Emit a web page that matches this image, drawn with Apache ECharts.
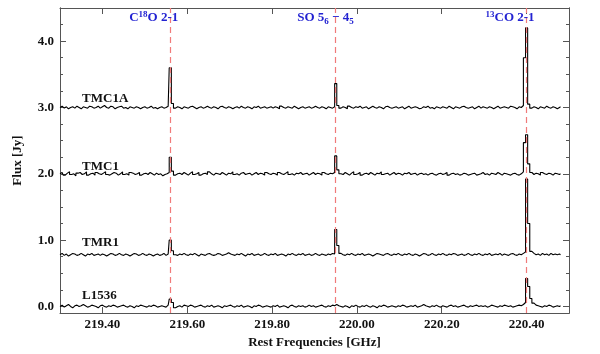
<!DOCTYPE html>
<html>
<head>
<meta charset="utf-8">
<title>Spectra</title>
<script src="https://cdn.jsdelivr.net/npm/echarts@6/dist/echarts.min.js"></script>
<style>
  html, body { margin: 0; padding: 0; background: #fff; }
  #chart { width: 600px; height: 354px; }
</style>
</head>
<body>
<div id="chart"></div>
<script>
// channel grid (GHz)
const freqStart = 219.30;
const chanWidth = 0.005;

// flux per channel [Jy]
const tmc1a = [
  3.00,3.02,2.99,3.01,2.98,3.00,3.01,2.99,3.02,3.00,2.98,3.01,3.00,2.99,3.02,3.01,2.99,3.00,3.02,2.99,
  3.01,3.03,3.00,2.99,3.02,3.01,2.98,3.00,3.01,3.02,2.99,3.00,2.98,3.01,3.00,2.99,3.01,3.00,2.98,3.00,
  3.01,2.99,3.00,3.02,2.99,3.00,2.98,3.00,3.01,2.99,3.00,3.02,3.60,3.06,2.99,3.01,3.00,2.98,3.01,3.00,
  2.99,3.01,3.02,3.00,2.98,3.00,3.01,2.99,3.00,3.02,3.00,2.99,3.01,3.00,2.98,3.01,3.02,3.00,2.99,3.01,
  3.00,2.98,3.00,3.01,2.99,3.02,3.00,2.99,3.01,3.00,2.98,3.01,3.00,3.02,2.99,3.00,3.01,2.99,3.00,3.01,
  2.99,3.01,3.00,2.98,3.02,3.00,2.99,3.01,3.00,2.99,3.02,3.00,2.98,3.00,3.01,2.99,3.00,3.01,2.99,3.00,
  3.02,3.00,2.99,3.01,3.00,2.98,3.01,3.00,2.99,3.01,3.36,3.03,2.99,3.01,3.00,2.98,3.02,3.00,2.99,3.01,
  3.00,3.02,2.99,3.00,3.01,2.98,3.00,3.02,3.00,2.99,3.01,3.00,2.98,3.01,3.02,3.00,2.99,3.00,3.01,2.99,
  3.00,3.01,2.98,3.00,3.02,2.99,3.00,3.01,3.00,2.98,2.99,3.01,3.00,3.02,2.99,3.00,2.98,3.01,3.00,2.99,
  3.01,3.00,2.99,3.02,3.00,2.98,3.01,3.00,2.99,3.01,3.02,3.00,2.99,3.00,3.01,2.98,3.00,3.02,2.99,3.01,
  3.00,2.99,3.01,3.00,2.98,3.00,3.02,2.99,3.00,3.01,3.00,2.99,3.02,3.01,3.00,2.98,3.01,3.00,3.03,3.75,
  4.20,3.05,2.99,3.01,3.00,2.98,3.01,3.00,2.99,3.02,3.00,2.99,3.01,3.00,2.98,3.00,3.01
];
const tmc1 = [
  2.00,2.02,1.98,2.01,2.03,1.99,2.00,1.97,2.01,2.02,1.99,2.00,2.03,1.98,2.00,2.01,1.98,2.02,2.00,1.99,
  2.01,2.03,1.99,1.98,2.00,2.02,2.01,1.98,2.00,2.03,1.99,2.00,1.98,2.02,2.01,1.99,2.00,2.02,1.98,2.00,
  2.01,1.99,2.02,2.00,1.98,2.01,1.99,2.00,1.97,1.99,2.00,2.02,2.25,2.04,1.98,2.00,2.01,1.99,2.02,2.00,
  1.98,2.01,2.03,1.99,2.00,2.02,1.98,2.00,2.01,1.99,2.03,2.00,1.98,2.01,2.00,1.99,2.02,2.00,1.98,2.01,
  2.00,2.03,1.99,2.00,1.98,2.01,2.02,1.99,2.00,2.01,1.98,2.00,2.02,1.99,2.01,2.00,1.98,2.02,2.00,1.99,
  2.01,2.00,1.98,2.02,2.00,1.99,2.01,2.03,1.99,2.00,1.98,2.01,2.00,2.02,1.99,2.00,2.01,1.98,2.00,2.02,
  1.99,2.01,2.00,1.98,2.02,2.00,1.99,2.01,2.00,2.02,2.27,2.06,2.00,1.99,2.02,2.00,1.98,2.01,2.03,1.99,
  2.00,2.02,1.98,2.00,2.01,1.99,2.02,2.00,1.98,2.01,2.00,2.03,1.99,2.00,2.01,1.98,2.00,2.02,1.99,2.01,
  2.00,1.98,2.01,2.00,2.02,1.99,2.00,2.01,1.98,2.00,2.01,1.99,2.00,1.98,2.00,2.01,1.99,1.98,2.00,2.01,
  1.99,2.00,2.02,1.98,2.00,2.01,1.99,2.00,1.98,1.99,2.01,2.00,1.98,1.99,2.00,2.01,1.98,1.99,2.00,2.02,
  1.99,2.00,1.98,2.01,2.00,1.99,2.02,2.00,1.98,2.01,2.00,1.99,1.98,2.00,2.01,1.99,1.98,2.00,2.03,2.47,
  2.59,2.15,2.02,1.99,2.01,2.00,1.98,2.02,2.00,1.99,2.01,2.00,1.98,2.01,2.00,1.99,2.00
];
const tmr1 = [
  0.78,0.80,0.77,0.79,0.76,0.78,0.80,0.79,0.77,0.78,0.80,0.78,0.76,0.79,0.78,0.80,0.77,0.78,0.79,0.77,
  0.79,0.78,0.76,0.78,0.80,0.79,0.77,0.78,0.80,0.78,0.77,0.79,0.78,0.76,0.78,0.80,0.79,0.77,0.78,0.80,
  0.78,0.77,0.79,0.78,0.76,0.78,0.79,0.77,0.78,0.80,0.77,0.79,1.00,0.84,0.78,0.77,0.79,0.78,0.80,0.78,
  0.77,0.79,0.78,0.80,0.78,0.76,0.79,0.78,0.77,0.79,0.80,0.78,0.77,0.78,0.80,0.79,0.77,0.78,0.79,0.81,
  0.79,0.78,0.77,0.79,0.78,0.80,0.78,0.76,0.79,0.78,0.80,0.77,0.78,0.79,0.77,0.78,0.80,0.78,0.77,0.79,
  0.78,0.80,0.77,0.78,0.79,0.78,0.76,0.79,0.78,0.80,0.78,0.77,0.79,0.78,0.80,0.77,0.78,0.79,0.77,0.78,
  0.80,0.78,0.77,0.79,0.78,0.77,0.79,0.78,0.80,0.79,1.16,0.92,0.80,0.78,0.77,0.79,0.78,0.80,0.78,0.77,
  0.79,0.78,0.80,0.77,0.78,0.79,0.78,0.76,0.78,0.80,0.79,0.78,0.77,0.79,0.80,0.78,0.77,0.79,0.78,0.80,
  0.78,0.77,0.79,0.78,0.80,0.78,0.77,0.79,0.78,0.76,0.78,0.80,0.79,0.77,0.78,0.80,0.78,0.77,0.79,0.78,
  0.80,0.78,0.77,0.79,0.78,0.80,0.79,0.77,0.78,0.79,0.77,0.78,0.80,0.78,0.77,0.79,0.78,0.80,0.78,0.77,
  0.79,0.78,0.80,0.77,0.78,0.79,0.78,0.80,0.77,0.79,0.78,0.77,0.79,0.80,0.78,0.77,0.79,0.78,0.80,0.82,
  1.92,1.25,0.83,0.80,0.78,0.79,0.77,0.80,0.78,0.79,0.77,0.80,0.78,0.79,0.78,0.79,0.78
];
const l1536 = [
  0.00,0.02,-0.01,0.01,0.03,0.00,-0.02,0.01,0.02,0.00,0.01,0.03,0.01,-0.01,0.00,0.02,0.01,0.00,-0.02,0.01,
  0.02,0.00,-0.01,0.01,0.00,0.02,0.01,-0.01,0.00,0.01,0.02,0.00,-0.01,0.01,0.00,-0.02,0.01,0.00,0.02,0.01,
  0.00,-0.01,0.01,0.00,0.02,0.01,-0.01,0.00,0.01,0.00,-0.01,0.02,0.11,0.06,-0.02,0.00,0.01,-0.01,0.02,0.01,
  0.00,0.02,0.01,-0.01,0.00,0.01,0.02,0.00,-0.01,0.01,0.00,0.02,-0.01,0.00,0.01,0.00,-0.02,0.01,0.00,0.01,
  0.02,0.00,-0.01,0.01,0.00,0.02,-0.01,0.00,0.01,0.00,-0.02,0.01,0.00,0.02,0.01,-0.01,0.00,0.01,0.00,-0.01,
  0.01,0.00,0.02,-0.01,0.00,0.01,0.00,-0.02,0.01,0.02,0.00,-0.01,0.01,0.00,0.01,-0.01,0.00,0.02,0.00,0.01,
  -0.01,0.00,0.01,0.02,0.00,-0.01,0.01,0.00,0.02,0.01,0.03,0.01,0.00,-0.01,0.01,0.00,-0.02,0.01,0.00,0.02,
  0.00,-0.01,0.01,0.00,0.02,0.00,-0.01,0.01,0.00,-0.02,0.01,0.00,0.02,0.01,-0.01,0.00,0.01,0.00,-0.01,0.01,
  0.00,0.02,0.01,-0.01,0.00,0.01,0.00,0.02,-0.01,0.00,0.01,0.03,0.01,0.00,-0.01,0.01,0.00,0.02,0.00,-0.01,
  0.01,0.00,-0.01,0.01,0.02,0.00,0.01,-0.01,0.00,0.01,0.02,0.00,-0.01,0.01,0.00,0.01,0.02,0.00,0.01,0.00,
  0.01,-0.01,0.00,0.02,0.01,0.00,-0.01,0.01,0.00,0.02,0.01,0.00,0.01,-0.01,0.00,0.01,0.02,0.01,0.03,0.06,
  0.42,0.30,0.12,0.05,0.02,0.01,0.00,-0.01,0.01,0.00,0.02,0.01,-0.01,0.00,0.01,0.00,0.01
];

// source names and where their labels sit
const sourceNames = ['TMC1A', 'TMC1', 'TMR1', 'L1536'];
const sourceFlux = [tmc1a, tmc1, tmr1, l1536];
const sourceLabelFreq = 219.352;
const sourceLabelY = [3.14, 2.11, 0.96, 0.16];

// transitions (rest frequencies, GHz)
const lineFreqs = [219.5604, 219.9494, 220.3987];
const lineLabels = ['{t|C}{sup|18}{t|O 2-1}', '{t|SO 5}{sub|6}{t| \u2212 4}{sub|5}', '{sup|13}{t|CO 2-1}'];
const lineLabelFreq = [219.521, 219.926, 220.361];
const lineLabelY = 4.35;

// axis ticks
const xTicks = [219.4, 219.6, 219.8, 220.0, 220.2, 220.4];
const yMajor = [0, 1, 2, 3, 4];
const yMinor = [0.25, 0.5, 0.75, 1.25, 1.5, 1.75, 2.25, 2.5, 2.75, 3.25, 3.5, 3.75, 4.25];

const FONT = 'Liberation Serif';
const AXIS_COLOR = '#555';
const BLUE = '#2323d2';

const chart = echarts.init(document.getElementById('chart'));

function yAxisDef (pos, ticks, len, showLabel) {
  return {
    type: 'value', position: pos, min: -0.1, max: 4.5,
    axisLine: { show: true, lineStyle: { color: AXIS_COLOR, width: 1 } },
    axisTick: { show: true, inside: true, length: len, customValues: ticks, lineStyle: { color: AXIS_COLOR } },
    axisLabel: {
      show: showLabel, customValues: ticks, margin: 6,
      color: '#111', fontFamily: FONT, fontWeight: 'bold', fontSize: 13,
      formatter: (v) => v.toFixed(1)
    },
    splitLine: { show: false }
  };
}

function xAxisDef (pos, showLabel) {
  return {
    type: 'value', position: pos, min: 219.30, max: 220.50,
    axisLine: { show: true, onZero: false, lineStyle: { color: AXIS_COLOR, width: 1 } },
    axisTick: { show: true, inside: true, length: 6, customValues: xTicks, lineStyle: { color: AXIS_COLOR } },
    axisLabel: {
      show: showLabel, customValues: xTicks, margin: 5,
      color: '#111', fontFamily: FONT, fontWeight: 'bold', fontSize: 13,
      formatter: (v) => v.toFixed(2)
    },
    splitLine: { show: false }
  };
}

const xBottom = xAxisDef('bottom', true);
xBottom.name = 'Rest Frequencies [GHz]';
xBottom.nameLocation = 'middle';
xBottom.nameGap = 16;
xBottom.nameTextStyle = { color: '#111', fontFamily: FONT, fontWeight: 'bold', fontSize: 13 };

const yLeft = yAxisDef('left', yMajor, 6, true);
yLeft.name = 'Flux [Jy]';
yLeft.nameLocation = 'middle';
yLeft.nameGap = 36;
yLeft.nameTextStyle = { color: '#111', fontFamily: FONT, fontWeight: 'bold', fontSize: 13 };

const spectraSeries = sourceFlux.map((flux, k) => ({
  name: sourceNames[k],
  type: 'line',
  step: 'middle',
  showSymbol: false,
  symbol: 'none',
  silent: true,
  z: 3,
  lineStyle: { color: '#000', width: 1.1 },
  data: flux.map((v, i) => [freqStart + i * chanWidth, v]),
  markPoint: {
    symbol: 'circle', symbolSize: 0, silent: true,
    label: {
      show: true, position: 'right', distance: 0,
      color: '#111', fontFamily: FONT, fontWeight: 'bold', fontSize: 13,
      formatter: sourceNames[k]
    },
    data: [{ coord: [sourceLabelFreq, sourceLabelY[k]] }]
  }
}));

const richStyle = {
  t: { color: BLUE, fontFamily: FONT, fontWeight: 'bold', fontSize: 13 },
  sup: { color: BLUE, fontFamily: FONT, fontWeight: 'bold', fontSize: 9, padding: [0, 0, 7, 0] },
  sub: { color: BLUE, fontFamily: FONT, fontWeight: 'bold', fontSize: 9, padding: [7, 0, 0, 0] }
};

const lineMarks = {
  name: 'transitions',
  type: 'line',
  data: [],
  z: 2,
  markLine: {
    silent: true,
    symbol: ['none', 'none'],
    label: { show: false },
    lineStyle: { color: '#f07a7a', type: [6, 4], width: 1.2 },
    data: lineFreqs.map(f => ({ xAxis: f }))
  },
  markPoint: {
    symbol: 'circle', symbolSize: 0, silent: true,
    label: { show: true, position: 'inside', rich: richStyle },
    data: lineFreqs.map((f, i) => ({
      coord: [lineLabelFreq[i], lineLabelY],
      label: { formatter: lineLabels[i] }
    }))
  }
};

chart.setOption({
  animation: false,
  backgroundColor: '#fff',
  grid: { left: 60, right: 31, top: 8, bottom: 29 },
  xAxis: [xBottom, xAxisDef('top', false)],
  yAxis: [
    yLeft,
    yAxisDef('left', yMinor, 3, false),
    yAxisDef('right', yMajor, 6, false),
    yAxisDef('right', yMinor, 3, false)
  ],
  series: [lineMarks].concat(spectraSeries)
});
</script>
</body>
</html>
